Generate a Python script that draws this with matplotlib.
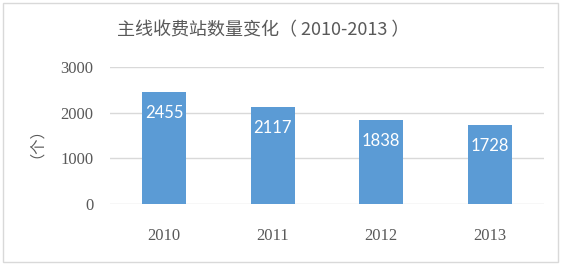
import matplotlib
matplotlib.use('Agg')
import matplotlib.pyplot as plt
from matplotlib.patches import Rectangle

years = ['2010', '2011', '2012', '2013']
counts = [2455, 2117, 1838, 1728]
yticks = [0, 1000, 2000, 3000]

title = '主线收费站数量变化（ 2010-2013 ）'
ylabel = '（个）'

plt.rcParams['font.family'] = ['Noto Sans CJK SC', 'DejaVu Sans']

fig = plt.figure(figsize=(5.61, 2.65), dpi=100)
ax = fig.add_axes([110/561, 61/265, 434/561, 137/265])

# bars
x = range(len(years))
ax.bar(x, counts, width=0.41, color='#5B9BD5', zorder=3)

# labels inside the bars
for i, v in enumerate(counts):
    ax.annotate(str(v), (i, v), xytext=(0, -21), textcoords='offset pixels',
                ha='center', va='center', color='white', fontsize=12,
                family=['Lato', 'DejaVu Sans'], zorder=4)

ax.set_xlim(-0.5, len(years) - 0.5)
ax.set_ylim(0, 3000)
ax.set_yticks(yticks)
ax.set_xticks(list(x))
ax.set_xticklabels(years)

for lab in ax.get_xticklabels() + ax.get_yticklabels():
    lab.set_family(['Liberation Serif'])
    lab.set_fontsize(12)
    lab.set_color('#595959')

ax.tick_params(axis='y', length=0, pad=12)
ax.tick_params(axis='x', length=0, pad=17)

ax.grid(axis='y', color='#D9D9D9', linewidth=1, zorder=0)
for s in ax.spines.values():
    s.set_visible(False)

ax.set_ylabel(ylabel, fontsize=11, color='#595959', labelpad=17)

fig.text(263/561, 1 - 30/265, title, ha='center', va='center',
         fontsize=13, color='#595959')

# outer border
fig.patches.append(Rectangle((3/561, 3/265), 555/561, 259/265,
                             transform=fig.transFigure, fill=False,
                             edgecolor='#D9D9D9', linewidth=1))

fig.savefig('out.png', dpi=100)
